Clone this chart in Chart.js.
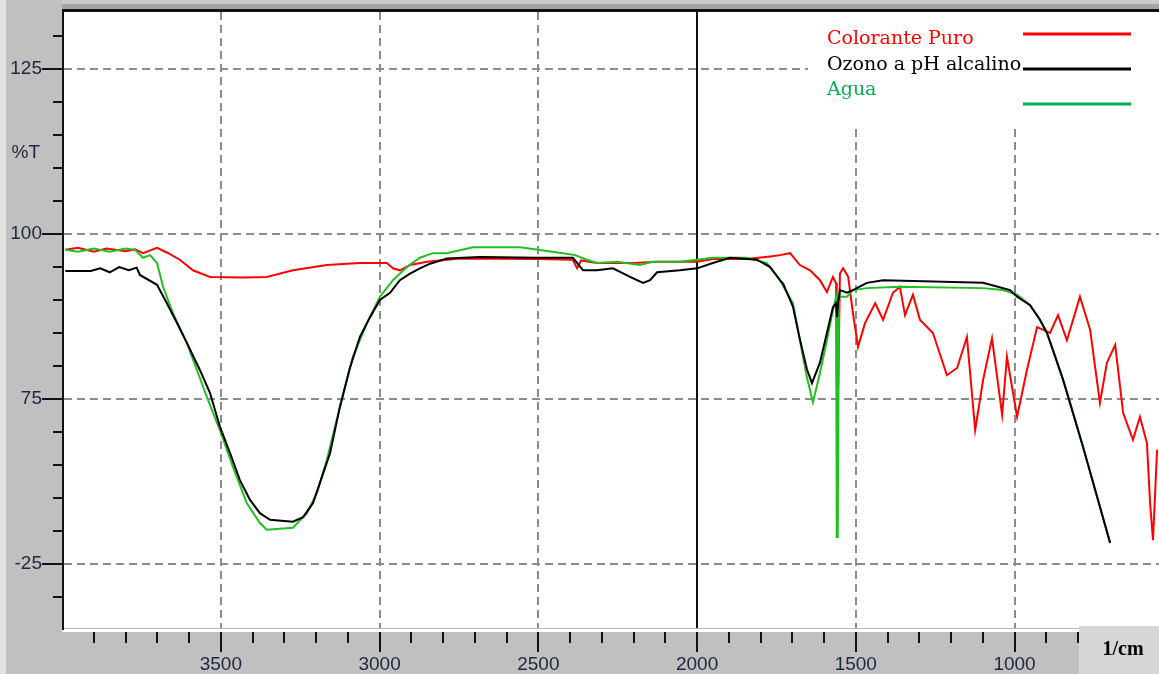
<!DOCTYPE html>
<html>
<head>
<meta charset="utf-8">
<script src="https://cdn.jsdelivr.net/npm/chart.js@4.4.0/dist/chart.umd.min.js"></script>
<style>
  html, body { margin: 0; padding: 0; background: #c0c0c0; }
  #ir { display: block; }
</style>
</head>
<body>
<canvas id="ir" width="1159" height="674"></canvas>
<script>
// --- Spectrum data (wavenumber in 1/cm, transmittance in %T) ---
const puroWn = [3990, 3950, 3900, 3860, 3800, 3770, 3745, 3701, 3670, 3629, 3588, 3534, 3430, 3355, 3273, 3166, 3062, 2977, 2958, 2936, 2904, 2851, 2747, 2504, 2391, 2378, 2365, 2315, 2200, 2126, 2000, 1950, 1843, 1770, 1739, 1707, 1676, 1644, 1613, 1591, 1572, 1562, 1560, 1558, 1555, 1550, 1540, 1524, 1509, 1493, 1471, 1439, 1414, 1383, 1361, 1345, 1320, 1298, 1257, 1213, 1181, 1150, 1124, 1099, 1071, 1039, 1024, 992, 961, 929, 888, 863, 835, 794, 762, 731, 709, 683, 658, 627, 605, 583, 573, 564, 551];
const puroT = [97.6, 97.9, 97.3, 97.8, 97.4, 97.7, 97.1, 97.9, 97.2, 96.1, 94.5, 93.5, 93.4, 93.5, 94.5, 95.3, 95.6, 95.6, 94.8, 94.5, 95.3, 95.8, 96.3, 96.2, 96.1, 94.8, 96.0, 95.6, 95.6, 95.8, 95.8, 96.2, 96.2, 96.6, 96.8, 97.1, 95.3, 94.5, 93.0, 91.2, 93.5, 92.5, 78.3, 72.9, 78.0, 94.0, 94.8, 93.5, 88.0, 82.9, 86.5, 89.5, 87.0, 91.1, 92.0, 87.7, 90.8, 87.0, 85.0, 78.6, 79.7, 84.4, 70.3, 77.9, 84.2, 72.6, 81.4, 72.3, 79.4, 85.9, 85.0, 87.7, 83.9, 90.5, 85.5, 74.4, 80.5, 83.2, 72.9, 68.8, 72.3, 68.3, 59.2, 53.6, 67.3];

const ozonoWn = [3990, 3910, 3880, 3850, 3820, 3790, 3765, 3755, 3701, 3670, 3638, 3607, 3566, 3534, 3503, 3471, 3440, 3408, 3377, 3345, 3273, 3241, 3210, 3188, 3156, 3125, 3093, 3062, 3030, 2999, 2967, 2936, 2904, 2873, 2841, 2788, 2684, 2504, 2391, 2359, 2315, 2265, 2211, 2170, 2148, 2126, 2054, 2000, 1950, 1896, 1811, 1770, 1739, 1729, 1698, 1676, 1654, 1638, 1613, 1591, 1572, 1562, 1559, 1556, 1550, 1528, 1509, 1465, 1414, 1099, 1014, 992, 951, 920, 898, 879, 847, 816, 784, 740, 699];
const ozonoT = [94.4, 94.4, 94.8, 94.2, 95.0, 94.5, 94.9, 93.8, 92.3, 89.5, 86.5, 83.5, 79.4, 75.9, 70.8, 66.8, 62.7, 59.7, 57.7, 56.7, 56.4, 57.1, 59.2, 62.3, 66.8, 73.8, 79.8, 84.4, 87.4, 90.0, 91.1, 93.0, 94.0, 94.8, 95.5, 96.3, 96.5, 96.4, 96.4, 94.5, 94.5, 94.8, 93.5, 92.6, 93.0, 94.2, 94.5, 94.8, 95.6, 96.4, 96.1, 95.0, 93.0, 92.5, 89.0, 84.0, 79.5, 77.4, 80.5, 85.0, 88.9, 89.5, 87.4, 89.5, 91.5, 91.1, 91.5, 92.6, 93.0, 92.6, 91.5, 90.5, 89.2, 87.0, 85.0, 82.4, 77.9, 72.9, 67.7, 60.2, 53.2];

const aguaWn = [3990, 3950, 3900, 3850, 3800, 3770, 3745, 3723, 3701, 3682, 3651, 3607, 3544, 3503, 3462, 3418, 3377, 3355, 3273, 3229, 3197, 3166, 3125, 3084, 3040, 2999, 2958, 2914, 2873, 2832, 2788, 2706, 2558, 2422, 2384, 2347, 2315, 2252, 2180, 2139, 2054, 2000, 1950, 1843, 1780, 1739, 1698, 1676, 1654, 1635, 1613, 1591, 1572, 1562, 1560, 1557, 1553, 1528, 1509, 1465, 1361, 1099, 1036, 992, 951, 920, 898, 879, 847, 816, 784, 740, 699];
const aguaT = [97.6, 97.3, 97.8, 97.3, 97.8, 97.6, 96.4, 96.8, 95.6, 92.0, 88.0, 83.5, 75.3, 70.3, 64.7, 59.2, 56.2, 55.2, 55.5, 57.7, 60.8, 65.8, 73.8, 81.4, 86.5, 90.5, 93.0, 95.0, 96.4, 97.1, 97.1, 98.0, 98.0, 97.1, 96.8, 96.1, 95.6, 95.8, 95.3, 95.8, 95.8, 96.1, 96.4, 96.4, 95.6, 93.0, 89.5, 83.9, 78.3, 74.5, 78.9, 83.9, 88.5, 90.5, 54.1, 54.1, 90.5, 90.5, 91.5, 91.8, 92.0, 91.8, 91.5, 90.8, 89.2, 87.0, 85.0, 82.4, 77.9, 72.9, 67.7, 60.2, 53.2];

// --- Axis labels ---
const xLabelValues = [3500, 3000, 2500, 2000, 1500, 1000];
const yLabelValues = [125, 100, 75, 50];
const yLabelTexts = ['125', '100', '75', '-25'];

const legendNames = ['Colorante Puro', 'Ozono a pH alcalino', 'Agua'];
const legendColors = ['#ff0000', '#000000', '#00b050'];

const xMin = 545, xMax = 3994;
const yMin = 40.3, yMax = 133.64;

// minor tick positions: every 100 1/cm, every 5 %T
const xTickValues = [];
for (let v = 600; v <= 3900; v += 100) xTickValues.push(v);
const yTickValues = [];
for (let v = 45; v <= 130; v += 5) yTickValues.push(v);

const toPoints = (wn, t) => wn.map((w, i) => ({ x: w, y: t[i] }));

// --- Frame, grid, ticks and legend drawn around the plot ---
const frame = {
    id: 'frame',
    beforeDraw(chart) {
        const { ctx, chartArea: a, width, height } = chart;
        ctx.save();
        ctx.fillStyle = '#c0c0c0';
        ctx.fillRect(0, 0, width, height);
        ctx.fillStyle = '#e2e2e2';
        ctx.fillRect(0, 0, 6, height);
        // top bevel
        ctx.fillStyle = '#cacaca';
        ctx.fillRect(a.left - 2, 0, width, 4);
        ctx.fillStyle = '#a4a4a4';
        ctx.fillRect(a.left - 2, 4, width, 5);
        ctx.fillStyle = '#111';
        ctx.fillRect(a.left - 2, 9, width, 3);
        // plot area
        ctx.fillStyle = '#ffffff';
        ctx.fillRect(a.left, a.top, a.right - a.left, a.bottom - a.top);
        // bottom bevel
        ctx.fillStyle = '#b8b8b8';
        ctx.fillRect(a.left - 2, a.bottom, width, 1);
        ctx.fillStyle = '#ffffff';
        ctx.fillRect(a.left - 2, a.bottom + 1, width, 3);
        ctx.restore();
    },
    beforeDatasetsDraw(chart) {
        const { ctx, chartArea: a, scales: { x, y } } = chart;
        ctx.save();
        ctx.strokeStyle = '#8c8c8c';
        ctx.lineWidth = 2;
        ctx.setLineDash([8, 5]);
        xLabelValues.forEach(v => {
            if (v === 2000) return;
            const px = Math.round(x.getPixelForValue(v));
            ctx.beginPath();
            ctx.moveTo(px, a.top);
            ctx.lineTo(px, a.bottom);
            ctx.stroke();
        });
        yLabelValues.forEach(v => {
            const py = Math.round(y.getPixelForValue(v));
            ctx.beginPath();
            ctx.moveTo(a.left, py);
            ctx.lineTo(a.right, py);
            ctx.stroke();
        });
        ctx.setLineDash([]);
        // solid marker line at 2000 1/cm
        ctx.strokeStyle = '#111';
        const p2000 = Math.round(x.getPixelForValue(2000));
        ctx.beginPath();
        ctx.moveTo(p2000, a.top);
        ctx.lineTo(p2000, a.bottom);
        ctx.stroke();
        // legend panel
        ctx.fillStyle = '#ffffff';
        ctx.fillRect(808, a.top, a.right - 808, 114);
        // left border
        ctx.fillStyle = '#111';
        ctx.fillRect(a.left - 2, 9, 2, a.bottom - 9 + 2);
        ctx.restore();
    },
    afterDraw(chart) {
        const { ctx, chartArea: a, scales: { x, y } } = chart;
        ctx.save();
        ctx.fillStyle = '#111';
        // y tick marks
        yTickValues.forEach(v => {
            const py = Math.round(y.getPixelForValue(v));
            const len = yLabelValues.includes(v) ? 20 : 9;
            ctx.fillRect(a.left - 2 - len, py - 1, len, 2);
        });
        // x tick marks
        xTickValues.forEach(v => {
            const px = Math.round(x.getPixelForValue(v));
            ctx.fillRect(px - 1, a.bottom + 4, 2, xLabelValues.includes(v) ? 20 : 11);
        });
        // %T label
        ctx.fillStyle = '#1e2640';
        ctx.font = '19px "Liberation Sans", Arial, sans-serif';
        ctx.textAlign = 'right';
        ctx.textBaseline = 'middle';
        ctx.fillText('%T', 40, 153);
        // unit box
        ctx.fillStyle = '#d6d6d6';
        ctx.fillRect(1079, 626, 80, 48);
        ctx.fillStyle = '#000';
        ctx.font = 'bold 20px "Liberation Serif", "Times New Roman", serif';
        ctx.textAlign = 'center';
        ctx.textBaseline = 'alphabetic';
        ctx.fillText('1/cm', 1123, 655);
        // legend
        const textY = [44, 70, 95];
        const lineY = [34, 69, 104];
        ctx.font = '19px "DejaVu Serif", serif';
        ctx.textAlign = 'left';
        legendNames.forEach((name, i) => {
            ctx.fillStyle = legendColors[i];
            ctx.fillText(name, 827, textY[i]);
            ctx.fillRect(1023, lineY[i] - 1.5, 108, 3);
        });
        ctx.restore();
    }
};

const tickFont = { family: '"Liberation Sans", Arial, sans-serif', size: 19 };
const noPadding = s => { s.paddingLeft = 0; s.paddingRight = 0; s.paddingTop = 0; s.paddingBottom = 0; };

new Chart(document.getElementById('ir'), {
    type: 'line',
    data: {
        datasets: [
            { label: 'Ozono a pH alcalino', data: toPoints(ozonoWn, ozonoT), borderColor: '#000000', order: 0 },
            { label: 'Agua', data: toPoints(aguaWn, aguaT), borderColor: '#20c020', order: 1 },
            { label: 'Colorante Puro', data: toPoints(puroWn, puroT), borderColor: '#ff0000', order: 2 }
        ]
    },
    options: {
        responsive: false,
        animation: false,
        layout: { padding: { top: 12, left: 0, right: 0, bottom: 0 } },
        plugins: { legend: { display: false }, tooltip: { enabled: false } },
        elements: {
            point: { radius: 0 },
            line: { tension: 0, borderWidth: 2, fill: false }
        },
        scales: {
            x: {
                type: 'linear',
                reverse: true,
                min: xMin,
                max: xMax,
                afterBuildTicks: s => { s.ticks = xLabelValues.map(v => ({ value: v })); },
                afterFit: s => { s.height = 46; noPadding(s); },
                grid: { display: false, drawTicks: false },
                border: { display: false },
                ticks: {
                    autoSkip: false,
                    maxRotation: 0,
                    padding: 25,
                    color: '#1e2640',
                    font: tickFont,
                    callback: v => String(v)
                }
            },
            y: {
                type: 'linear',
                min: yMin,
                max: yMax,
                afterBuildTicks: s => { s.ticks = yLabelValues.map(v => ({ value: v })); },
                afterFit: s => { s.width = 64; noPadding(s); },
                grid: { display: false, drawTicks: false },
                border: { display: false },
                ticks: {
                    autoSkip: false,
                    padding: 22,
                    color: '#1e2640',
                    font: tickFont,
                    callback: v => yLabelTexts[yLabelValues.indexOf(v)]
                }
            }
        }
    },
    plugins: [frame]
});
</script>
</body>
</html>
